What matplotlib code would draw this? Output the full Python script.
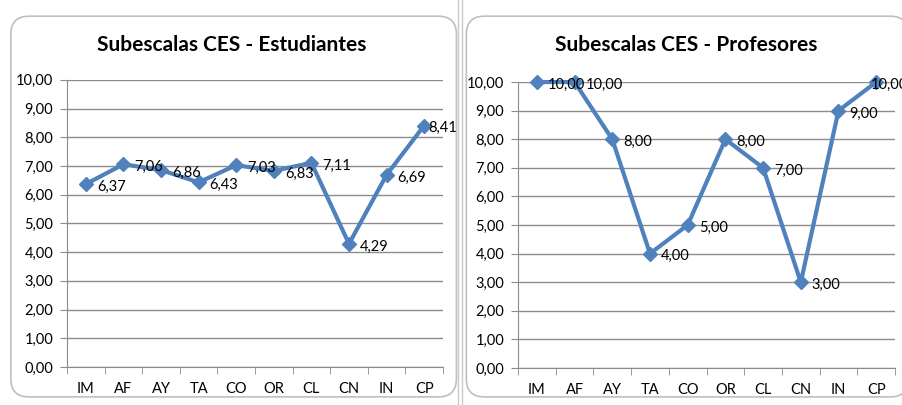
import matplotlib.pyplot as plt
from matplotlib.patches import FancyBboxPatch
from matplotlib.lines import Line2D

plt.rcParams['font.family'] = ['Lato', 'DejaVu Sans']

# datos
subescalas = ['IM', 'AF', 'AY', 'TA', 'CO', 'OR', 'CL', 'CN', 'IN', 'CP']
estudiantes = [6.37, 7.06, 6.86, 6.43, 7.03, 6.83, 7.11, 4.29, 6.69, 8.41]
profesores = [10.00, 10.00, 8.00, 4.00, 5.00, 8.00, 7.00, 3.00, 9.00, 10.00]
titulos = ['Subescalas CES - Estudiantes', 'Subescalas CES - Profesores']

azul = '#4f81bd'
gris = '#8c8c8c'

fig = plt.figure(figsize=(9.02, 4.05), dpi=100)

# marcos de los graficos (estilo excel), por debajo de los ejes
for x0, w in [(0.012, 0.494), (0.517, 0.49)]:
    caja = FancyBboxPatch((x0, 0.02), w, 0.94, boxstyle='round,pad=0,rounding_size=0.02',
                          transform=fig.transFigure, fc='white', ec='#bfbfbf', lw=1.2,
                          mutation_aspect=902 / 405, zorder=-5)
    fig.patches.append(caja)

# separador entre los dos graficos
for xs in [0.508, 0.512]:
    fig.add_artist(Line2D([xs, xs], [0, 1], transform=fig.transFigure, color='#c8c8c8',
                          lw=1, zorder=-4))

ax1 = fig.add_axes([0.0743, 0.0938, 0.4168, 0.709])
ax2 = fig.add_axes([0.5743, 0.0914, 0.4180, 0.706])

# titulos centrados en el marco, no en el eje
for xt, titulo in zip([0.257, 0.761], titulos):
    fig.text(xt, 0.889, titulo, ha='center', va='center', fontsize=15, fontweight='bold')

# el ultimo rotulo se corre a la izquierda (excel lo ajusta al borde)
desp_final = [3, -4]

for ax, valores, dx_fin in zip([ax1, ax2], [estudiantes, profesores], desp_final):
    ax.patch.set_alpha(0)
    x = list(range(len(subescalas)))
    ax.plot(x, valores, color=azul, lw=3, marker='D', ms=7, zorder=3, clip_on=False)
    for xi, v in zip(x, valores):
        dx = dx_fin if xi == x[-1] else 8
        ax.annotate(f'{v:.2f}'.replace('.', ','), (xi, v), xytext=(dx, -2),
                    textcoords='offset points', ha='left', va='center',
                    fontsize=10.5, color='black', zorder=4)

    ax.set_xlim(-0.5, len(subescalas) - 0.5)
    ax.set_ylim(0, 10)
    ax.set_yticks(range(0, 11))
    ax.set_yticklabels([f'{t},00' for t in range(0, 11)], fontsize=10.5)
    ax.set_xticks(x)
    ax.set_xticklabels(subescalas, fontsize=10.5)
    ax.set_xticks([i - 0.5 for i in range(len(subescalas) + 1)], minor=True)
    ax.tick_params(axis='x', which='major', length=0, pad=11)
    ax.tick_params(axis='x', which='minor', length=5, color=gris, direction='out')
    ax.tick_params(axis='y', length=5, color=gris, pad=5)

    ax.grid(axis='y', color=gris, lw=1)
    ax.set_axisbelow(True)
    for lado in ['top', 'right']:
        ax.spines[lado].set_visible(False)
    ax.spines['left'].set_color(gris)
    ax.spines['bottom'].set_color(gris)

plt.savefig('out.png', dpi=100)
